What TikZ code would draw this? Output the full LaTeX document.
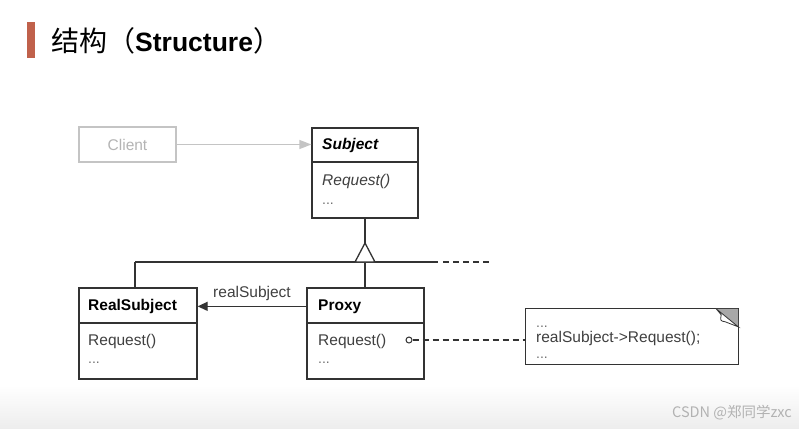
\documentclass[tikz,border=0pt]{standalone}
\usepackage{fontspec}
\setmainfont{Liberation Sans}
\newfontfamily\cjkfont{Noto Sans CJK SC}
\usetikzlibrary{arrows.meta,calc}
\definecolor{linec}{HTML}{333333}
\definecolor{txtc}{HTML}{404040}
\definecolor{dotc}{HTML}{707070}
\definecolor{barc}{HTML}{C0614B}
\definecolor{clientc}{HTML}{C4C4C4}
\definecolor{clienttxt}{HTML}{B4B4B4}
\definecolor{notegray}{HTML}{A8A8A8}
\begin{document}
\begin{tikzpicture}[x=1pt,y=-1pt,
  umlbox/.style={draw=linec,line width=1.3pt,fill=white,inner sep=0pt,rectangle},
  conn/.style={draw=linec,line width=1.3pt},
  hdr/.style={anchor=base west,inner sep=0pt,font=\fontsize{15.5}{18}\selectfont\bfseries,text=black},
  body/.style={anchor=base west,inner sep=0pt,font=\fontsize{15.5}{18}\selectfont,text=txtc},
  dots/.style={anchor=base west,inner sep=0pt,font=\fontsize{14}{16}\selectfont,text=dotc},
  dashconn/.style={draw=linec,line width=1.3pt,dash pattern=on 6pt off 4pt}]
\useasboundingbox (0,0) rectangle (799,428);
\fill[white] (0,0) rectangle (799,428);
\shade[top color=white,bottom color=black!7] (0,385) rectangle (799,428);
% title
\fill[barc] (27,22) rectangle (35,58);
\node[anchor=base west,inner sep=0pt] (title) at (51,52) {\fontsize{28}{32}\selectfont\cjkfont 结构（{\fontspec{Liberation Sans}\fontsize{26.5}{30}\selectfont\bfseries Structure}）};
% client
\node[draw=clientc,line width=1.3pt,fill=white,minimum width=97pt,minimum height=35pt,inner sep=0pt,
  font=\fontsize{15.5}{18}\selectfont,text=clienttxt] (client) at (127.5,144.5) {Client};
% subject
\node[umlbox,minimum width=106pt,minimum height=90pt] (subj) at (365,173) {};
\draw[conn] (312,162) -- (418,162);
\node[hdr,font=\fontsize{15.5}{18}\selectfont\bfseries\itshape] (subjname) at (322,149.5) {Subject};
\node[body,font=\fontsize{15.5}{18}\selectfont\itshape] (subjreq) at (322,185.5) {Request()};
\node[dots] (subjdots) at (322,204) {...};
% real subject
\node[umlbox,minimum width=118pt,minimum height=91pt] (real) at (138,333.5) {};
\draw[conn] (79,323) -- (197,323);
\node[hdr] (realname) at (88,310.5) {RealSubject};
\node[body] (realreq) at (88,345.5) {Request()};
\node[dots] (realdots) at (88,363) {...};
% proxy
\node[umlbox,minimum width=117pt,minimum height=91pt] (proxy) at (365.5,333.5) {};
\draw[conn] (307,323) -- (424,323);
\node[hdr] (proxyname) at (318,310.5) {Proxy};
\node[body] (proxyreq) at (318,345.5) {Request()};
\node[dots] (proxydots) at (318,363) {...};
% note
\node[minimum width=212pt,minimum height=55pt,inner sep=0pt] (note) at (632,336.5) {};
\draw[linec,line width=1.3pt,fill=white] (note.north west) rectangle (note.south east);
\fill[notegray] ([xshift=-22pt]note.north east) -- (note.north east) -- ([yshift=-18pt]note.north east) -- cycle;
\draw[linec,line width=0.8pt,fill=white] ([xshift=-22pt]note.north east) -- ([yshift=-18pt]note.north east)
  -- ([xshift=-13pt,yshift=-13pt]note.north east) .. controls ([xshift=-18pt,yshift=-12pt]note.north east) .. ([xshift=-17pt,yshift=-6pt]note.north east) -- cycle;
\node[dots] (n1) at (536,327) {...};
\node[body] (n2) at (536,342) {realSubject->Request();};
\node[dots] (n3) at (536,358.5) {...};
% client -> subject
\draw[draw=clientc,line width=1.3pt,-{Triangle[length=12pt,width=9pt,fill=clientc]}] (client.east) -- (client.east -| subj.west);
% inheritance
\coordinate (junc) at (subj.south |- 0,262);
\coordinate (tritop) at (subj.south |- 0,243);
\coordinate (hlstart) at ([xshift=-3pt]real.north |- 0,262);
\coordinate (hlend) at (438,262);
\coordinate (dashend) at (492,262);
\draw[conn] (subj.south) -- (tritop);
\draw[conn] (hlstart) -- (hlend);
\draw[dashconn] ([xshift=5pt]hlend) -- (dashend);
\draw[conn] (hlstart) -- (hlstart |- real.north);
\draw[conn] (junc) -- (junc |- proxy.north);
\draw[linec,line width=1.3pt,fill=white,line join=miter] (tritop) -- ([xshift=-10pt]junc) -- ([xshift=10pt]junc) -- cycle;
% proxy -> realsubject
\draw[conn,-{Triangle[length=10pt,width=9pt]}] ([yshift=-19pt]proxy.north west) -- node[above=5pt,inner sep=0pt,font=\fontsize{15.5}{18}\selectfont,text=txtc] (lbl) {realSubject} ([yshift=-19pt]real.north east);
% circle and dashed to note
\node[circle,draw=linec,line width=1pt,fill=white,minimum size=6pt,inner sep=0pt] (dot) at (409,340) {};
\draw[dashconn] (dot.east) -- (dot.east -| note.west);
% watermark
\node[anchor=east,inner sep=0pt,text=black!30,font=\fontsize{14.5}{17}\selectfont\cjkfont] (wm) at (792,413) {CSDN @郑同学zxc};
\end{tikzpicture}
\end{document}
